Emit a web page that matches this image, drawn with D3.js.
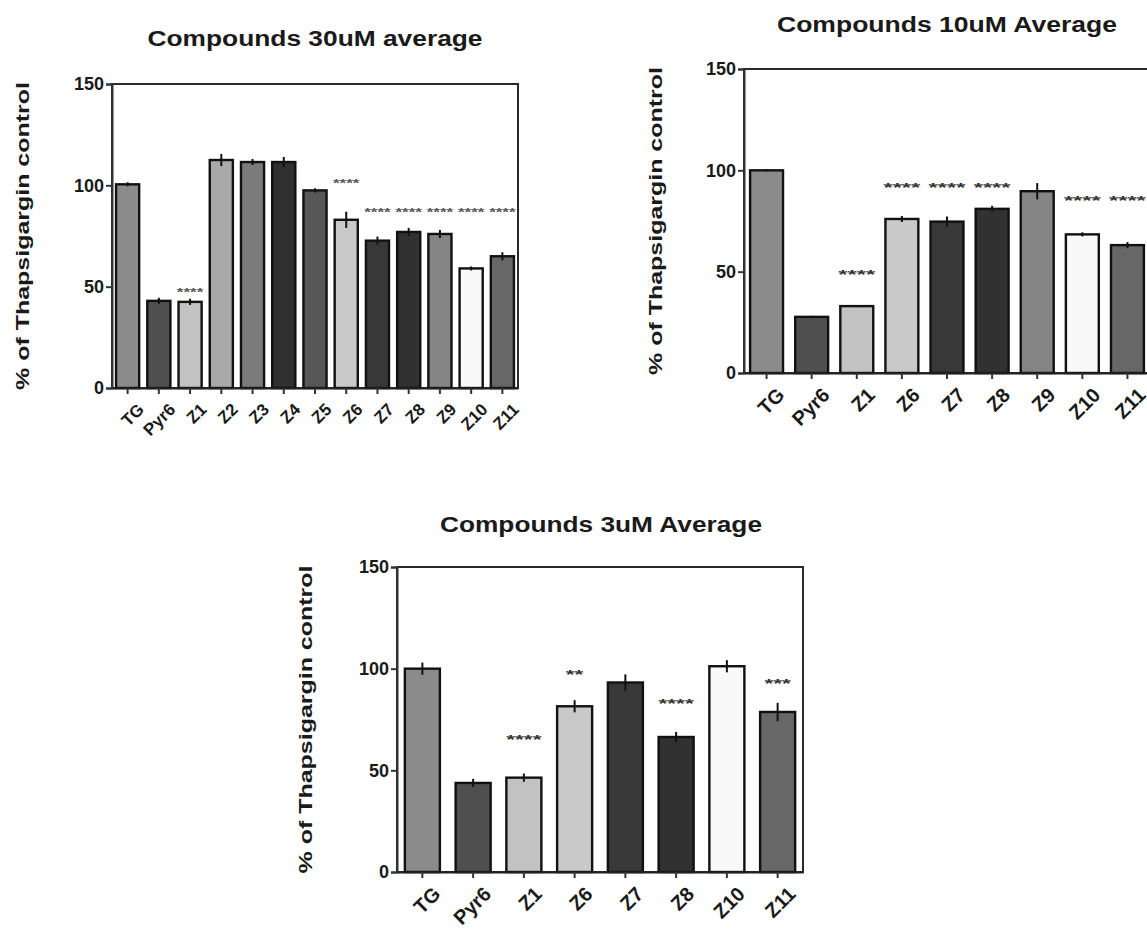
<!DOCTYPE html>
<html>
<head>
<meta charset="utf-8">
<script src="https://d3js.org/d3.v7.min.js"></script>
<style>
  body { margin: 0; background: #fff; }
  svg { display: block; }
  text { font-family: "Liberation Sans", Arial, sans-serif; font-weight: bold; fill: #1a1a1a; }
</style>
</head>
<body>
<svg id="fig" width="1147" height="933"></svg>
<script>
// values (% of Thapsigargin control)
var cats30 = ["TG", "Pyr6", "Z1", "Z2", "Z3", "Z4", "Z5", "Z6", "Z7", "Z8", "Z9", "Z10", "Z11"];
var mean30 = [100.5, 43, 42.5, 112.5, 111.5, 111.5, 97.5, 83, 72.7, 77, 76, 59, 65];
var err30  = [1, 1.5, 1.5, 3, 1.5, 2.5, 1, 4, 2, 2, 2, 1, 2];
var stars30 = ["", "", "****", "", "", "", "", "****", "****", "****", "****", "****", "****"];
var starY30 = [0, 0, 48.3, 0, 0, 0, 0, 101.8, 87.5, 87.5, 87.5, 87.5, 87.5];

var cats10 = ["TG", "Pyr6", "Z1", "Z6", "Z7", "Z8", "Z9", "Z10", "Z11"];
var mean10 = [100, 27.7, 33, 76, 74.7, 81, 89.7, 68.4, 63.1];
var err10  = [0.5, 0.5, 0.5, 1.5, 2.5, 1.5, 4, 1, 1.5];
var stars10 = ["", "", "****", "****", "****", "****", "", "****", "****"];
var starY10 = [0, 0, 50, 92.8, 92.8, 92.8, 0, 86.5, 86.5];

var cats3 = ["TG", "Pyr6", "Z1", "Z6", "Z7", "Z8", "Z10", "Z11"];
var mean3 = [100, 43.8, 46.4, 81.5, 93.2, 66.4, 101.2, 78.7];
var err3  = [3, 2, 2, 3, 4, 2.5, 3, 4.5];
var stars3 = ["", "", "****", "**", "", "****", "", "***"];
var starY3 = [0, 0, 66.4, 98.4, 0, 84.1, 0, 93.8];

var yTicks = [0, 50, 100, 150];

// grey fill per compound
var shade = {
  TG: "#8b8b8b", Pyr6: "#4f4f4f", Z1: "#c2c2c2", Z2: "#a9a9a9", Z3: "#7b7b7b",
  Z4: "#303030", Z5: "#575757", Z6: "#c9c9c9", Z7: "#383838", Z8: "#313131",
  Z9: "#858585", Z10: "#f9f9f9", Z11: "#676767"
};

var svg = d3.select("#fig");

function drawPanel(o) {
  var g = svg.append("g");

  var x = d3.scaleBand()
    .domain(o.cats)
    .range([o.x0, o.x1])
    .paddingInner(o.pad)
    .paddingOuter(o.pad / 2);

  var y = d3.scaleLinear().domain([0, 150]).range([o.y1, o.y0]);

  // box round the plot
  g.append("rect")
    .attr("x", o.x0).attr("y", o.y0)
    .attr("width", o.x1 - o.x0).attr("height", o.y1 - o.y0)
    .attr("fill", "none").attr("stroke", "#2a2a2a").attr("stroke-width", 2);

  var rows = o.cats.map(function(c, i) {
    return { c: c, m: o.mean[i], e: o.err[i], s: o.stars[i], sy: o.starY[i] };
  });

  g.selectAll(".bar").data(rows).enter().append("rect")
    .attr("class", "bar")
    .attr("x", function(d) { return x(d.c); })
    .attr("y", function(d) { return y(d.m); })
    .attr("width", x.bandwidth())
    .attr("height", function(d) { return y(0) - y(d.m); })
    .attr("fill", function(d) { return shade[d.c]; })
    .attr("stroke", "#111").attr("stroke-width", 2.4);

  // error bars
  g.selectAll(".err").data(rows).enter().append("line")
    .attr("x1", function(d) { return x(d.c) + x.bandwidth() / 2; })
    .attr("x2", function(d) { return x(d.c) + x.bandwidth() / 2; })
    .attr("y1", function(d) { return y(d.m - d.e); })
    .attr("y2", function(d) { return y(d.m + d.e); })
    .attr("stroke", "#111").attr("stroke-width", 2);

  // significance stars
  g.selectAll(".star").data(rows.filter(function(d) { return d.s; })).enter().append("text")
    .attr("x", function(d) { return x(d.c) + x.bandwidth() / 2; })
    .attr("y", function(d) { return y(d.sy) + o.starSize * 0.55; })
    .attr("text-anchor", "middle")
    .attr("font-size", o.starSize)
    .attr("textLength", function(d) { return d.s.length * o.starW; })
    .attr("lengthAdjust", "spacingAndGlyphs")
    .style("fill", o.starFill)
    .text(function(d) { return d.s; });

  // axes
  var ya = g.append("g")
    .attr("transform", "translate(" + o.x0 + ",0)")
    .call(d3.axisLeft(y).tickValues(yTicks).tickSize(6).tickPadding(2));
  ya.select(".domain").attr("stroke", "#333").attr("stroke-width", 2);
  ya.selectAll(".tick line").attr("stroke", "#333").attr("stroke-width", 2);
  ya.selectAll(".tick text").attr("font-size", 18).style("fill", "#1a1a1a");

  var xa = g.append("g")
    .attr("transform", "translate(0," + o.y1 + ")")
    .call(d3.axisBottom(x).tickSize(6).tickSizeOuter(0));
  xa.select(".domain").attr("stroke", "#222").attr("stroke-width", 2);
  xa.selectAll(".tick line").attr("stroke", "#333").attr("stroke-width", 2);
  xa.selectAll(".tick text")
    .attr("font-size", o.xFont)
    .attr("text-anchor", "end")
    .attr("dy", "0.35em")
    .attr("transform", "translate(" + o.xdx + "," + o.xdy + ") rotate(-45)")
    .style("fill", "#1a1a1a");

  // title and y label
  g.append("text")
    .attr("x", o.titleX).attr("y", o.titleY)
    .attr("text-anchor", "middle")
    .attr("font-size", 22)
    .attr("textLength", o.titleW)
    .attr("lengthAdjust", "spacingAndGlyphs")
    .text(o.title);

  g.append("text")
    .attr("transform", "translate(" + o.labX + "," + (o.y0 + o.y1) / 2 + ") rotate(-90)")
    .attr("text-anchor", "middle")
    .attr("dy", "0.35em")
    .attr("font-size", 19)
    .attr("textLength", 308)
    .attr("lengthAdjust", "spacingAndGlyphs")
    .text("% of Thapsigargin control");
}

drawPanel({
  cats: cats30, mean: mean30, err: err30, stars: stars30, starY: starY30,
  x0: 112, x1: 518, y0: 84, y1: 388, pad: 0.26,
  starSize: 10, starW: 6.6, starFill: "#555", xFont: 17, xdx: 7, xdy: 12,
  title: "Compounds 30uM average", titleX: 315, titleY: 46, titleW: 335, labX: 22
});

drawPanel({
  cats: cats10, mean: mean10, err: err10, stars: stars10, starY: starY10,
  x0: 744, x1: 1150, y0: 69, y1: 373, pad: 0.27,
  starSize: 13, starW: 9.2, starFill: "#333", xFont: 20, xdx: 8, xdy: 12,
  title: "Compounds 10uM Average", titleX: 947, titleY: 32, titleW: 340, labX: 655
});

drawPanel({
  cats: cats3, mean: mean3, err: err3, stars: stars3, starY: starY3,
  x0: 397, x1: 803, y0: 567, y1: 872, pad: 0.31,
  starSize: 13, starW: 8.8, starFill: "#333", xFont: 20, xdx: 8, xdy: 12,
  title: "Compounds 3uM Average", titleX: 601, titleY: 532, titleW: 322, labX: 305
});
</script>
</body>
</html>
